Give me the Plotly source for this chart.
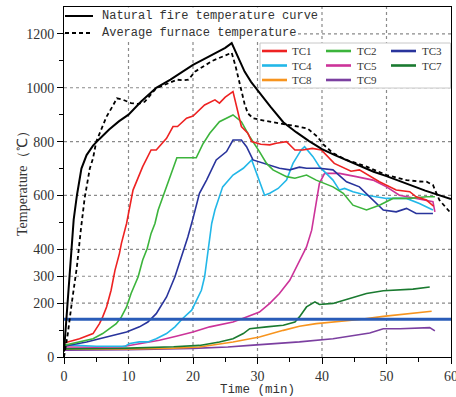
import plotly.graph_objects as go

# ---- data (time in min, temperature in °C) ----
natural_t = [0, 0.5, 1, 1.5, 2, 2.7, 3.5, 4.5, 5.5, 7, 8.5, 10, 12, 14.3, 16.5, 18, 20, 22, 24, 25, 26,
             27, 28, 29, 30, 32, 34, 36, 38, 40, 42, 45, 48, 50, 53, 56, 60]
natural_T = [20, 190, 360, 510, 600, 700, 750, 785, 810, 845, 875, 900, 950, 1000, 1030, 1055, 1085, 1110, 1135, 1148, 1166,
             1115, 1060, 1022, 990, 930, 872, 835, 802, 772, 750, 718, 688, 672, 645, 618, 587]

furnace_t = [0, 0.6, 1.2, 2, 2.6, 3.2, 4, 4.5, 5, 6, 6.6, 7.5, 8.2, 9.2, 10.4, 11.5, 12.5, 14.3, 16.5, 17.5, 18.5,
             19.3, 20.3, 21.5, 23, 25, 26, 26.6, 27.4, 28, 28.5, 29.3, 31, 33.6, 36.5, 37.8, 39.3, 40.2, 41.7, 43.8,
             46.9, 50, 53.1, 55, 56.2, 57.2, 58.2, 59.8]
furnace_T = [0, 88, 200, 335, 470, 590, 700, 738, 800, 860, 893, 930, 961, 955, 943, 940, 948, 998, 1022, 1030, 1028,
             1030, 1060, 1078, 1100, 1120, 1130, 1080, 1004, 940, 905, 887, 878, 868, 855, 848, 818, 790, 757, 732,
             707, 676, 657, 652, 651, 639, 583, 539]

tc1_t = [0, 2.4, 4.5, 5.5, 6.0, 6.6, 7.3, 7.9, 8.6, 8.9, 9.7, 10.7, 12.2, 13.5, 14.3, 15.9, 16.9, 17.6, 19, 20, 21.8,
         23.4, 24.1, 25, 26.2, 27.0, 27.5, 28.5, 29.1, 30.5, 31.9, 32.9, 34.5, 35.8, 37, 38.5, 39.9, 41.9, 44.5, 45.8,
         48.9, 51.5, 53.6, 54.6, 56.2, 57.3]
tc1_T = [52, 68, 87, 124, 149, 186, 248, 322, 385, 422, 496, 620, 707, 769, 769, 812, 856, 856, 887, 895, 936,
         955, 943, 965, 986, 905, 856, 831, 800, 790, 788, 794, 800, 769, 769, 775, 769, 719, 690, 695,
         651, 620, 614, 595, 583, 560]

tc2_t = [0, 2.4, 4.5, 6.0, 7.1, 8.1, 8.9, 9.7, 10.4, 11.5, 12.2, 12.9, 13.5, 14.1, 14.6, 15.4, 15.9, 16.9, 17.5, 18.5,
         20, 20.5, 21.5, 22.6, 24.1, 25.2, 26.2, 27.5, 28.8, 30.3, 31.4, 32.4, 34.5, 35.8, 37.6, 39.1, 41.7, 43.3,
         44.8, 46.9, 48.9, 51, 53.6, 56.2, 57.5]
tc2_T = [43, 56, 68, 87, 106, 124, 149, 186, 236, 298, 360, 403, 459, 496, 546, 600, 632, 695, 740, 740,
         740, 740, 790, 831, 874, 887, 899, 874, 818, 763, 719, 695, 670, 664, 676, 657, 632, 608,
         564, 546, 564, 589, 589, 595, 595]

tc3_t = [0, 3.5, 5.5, 7.6, 9.7, 11.7, 13, 14.3, 15.9, 17.2, 18.2, 19.2, 20, 21, 22.1, 23.6, 25.2, 26.2, 27.5, 28.3,
         29.3, 30.9, 33.4, 35, 36.5, 37.6, 39.6, 41.7, 43.8, 45.8, 47.9, 49.5, 51.5, 53.1, 54.6, 57.2]
tc3_T = [40, 56, 68, 81, 93, 112, 130, 161, 223, 298, 372, 446, 515, 608, 657, 732, 763, 806, 806, 781,
         732, 719, 701, 695, 705, 701, 701, 695, 651, 632, 583, 546, 539, 552, 533, 533]

tc4_t = [0, 5, 9.5, 10.2, 11.7, 13, 14.3, 15.9, 17.2, 18.4, 19.8, 20.5, 21.3, 21.8, 22.3, 22.9, 23.4, 24.6, 26.2,
         27.8, 29.1, 30.1, 31.1, 31.9, 33.2, 34.5, 35.5, 36.8, 37.3, 38.6, 39.6, 41.7, 42.7, 43.5, 44.8, 46.9, 50,
         53.1, 55.1, 57.2]
tc4_T = [45, 40, 40, 50, 56, 56, 68, 87, 112, 143, 174, 211, 248, 298, 397, 496, 546, 632, 676,
         701, 732, 670, 601, 608, 626, 657, 719, 770, 781, 744, 707, 657, 620, 626, 614, 601, 589,
         589, 570, 546]

tc5_t = [0, 5, 9, 12.2, 14.8, 17.4, 20, 22.6, 24, 26.2, 28.3, 30.3, 31.9, 33.4, 35, 36.5, 37.6, 38.4, 39.1, 39.6,
         40.4, 42.7, 45.3, 47.9, 50, 52, 54.6, 56.2, 57.2, 57.5]
tc5_T = [37, 36, 38, 50, 62, 77, 93, 112, 118, 130, 149, 167, 199, 236, 285, 360, 409, 471, 571, 645,
         682, 682, 670, 657, 632, 601, 589, 583, 577, 539]

tc7_t = [0, 10, 17, 21, 24.1, 26.2, 27.8, 28.8, 31.4, 34, 35.8, 36.5, 37.6, 38.9, 39.6, 41.7, 44.3, 46.9, 49.5,
         52.1, 54.1, 56.7]
tc7_T = [30, 33, 38, 43, 56, 68, 87, 105, 112, 118, 130, 149, 186, 205, 195, 199, 217, 236, 246,
         248, 252, 260]

tc8_t = [0, 10, 17, 21, 26.2, 30.3, 34, 36.5, 39.1, 41.7, 45.8, 49.5, 53.1, 57]
tc8_T = [30, 30, 33, 37, 56, 74, 99, 114, 124, 130, 139, 151, 161, 170]

tc9_t = [0, 10, 20, 25.4, 28.8, 36.5, 41.7, 45.3, 47.4, 49.5, 52.1, 56.7, 57.5]
tc9_T = [25, 27, 32, 37, 43, 56, 68, 81, 89, 105, 105, 109, 97]

critical_T = 140          # insulation criterion line
critical_t = [0, 60]

tc_names = ["TC1", "TC2", "TC3", "TC4", "TC5", "TC7", "TC8", "TC9"]
tc_colors = ["#ee2222", "#3cb43c", "#29349c", "#22b7e8", "#cc3399", "#1a7a30", "#f7941e", "#7b3fa0"]
tc_series = [(tc1_t, tc1_T), (tc2_t, tc2_T), (tc3_t, tc3_T), (tc4_t, tc4_T),
             (tc5_t, tc5_T), (tc7_t, tc7_T), (tc8_t, tc8_T), (tc9_t, tc9_T)]

x_ticks = [0, 10, 20, 30, 40, 50, 60]
x_minor = [5, 15, 25, 35, 45, 55]
y_ticks = [0, 200, 300, 400, 600, 800, 1000, 1200]
y_minor = [100, 500, 700, 900, 1100]

fig = go.Figure()

# thermocouple curves, drawn from last to first so TC1 sits on top
for name, color, (t, T) in reversed(list(zip(tc_names, tc_colors, tc_series))):
    fig.add_trace(go.Scatter(x=t, y=T, mode="lines", name=name,
                             line=dict(color=color, width=1.6), showlegend=False))

fig.add_trace(go.Scatter(x=critical_t, y=[critical_T] * len(critical_t), mode="lines",
                         line=dict(color="#2a5cb8", width=3), showlegend=False))
fig.add_trace(go.Scatter(x=furnace_t, y=furnace_T, mode="lines", name="Average furnace temperature",
                         line=dict(color="black", width=1.8, dash="4px,3px"), showlegend=False))
fig.add_trace(go.Scatter(x=natural_t, y=natural_T, mode="lines", name="Natural fire temperature curve",
                         line=dict(color="black", width=2), showlegend=False))

# ---- geometry helpers for the hand-built legends (pixel -> paper) ----
L, T_MARGIN, W, H = 64, 7, 387, 350


def px(xp):
    return (xp - L) / W


def py(yp):
    return (T_MARGIN + H - yp) / H


shapes = []
annotations = []

# dashed grid at the labelled ticks, under the curves
grid_line = dict(color="#8a8a8a", width=1.2, dash="3px,3px")
for xv in x_ticks[1:-1]:
    shapes.append(dict(type="line", xref="x", yref="paper", x0=xv, x1=xv, y0=0, y1=1,
                       line=grid_line, layer="below"))
for yv in y_ticks[1:]:
    shapes.append(dict(type="line", xref="paper", yref="y", x0=0, x1=1, y0=yv, y1=yv,
                       line=grid_line, layer="below"))

# legend for the two reference curves (white backing hides the grid behind it)
shapes.append(dict(type="rect", xref="paper", yref="paper", x0=px(64.6), x1=px(298), y0=py(41), y1=py(7.6),
                   fillcolor="white", line=dict(width=0), layer="below"))
ref_entries = [("Natural fire temperature curve", "solid", 16), ("Average furnace temperature", "4px,3px", 33)]
for text, dash, yp in ref_entries:
    shapes.append(dict(type="line", xref="paper", yref="paper", x0=px(65), x1=px(93), y0=py(yp), y1=py(yp),
                       line=dict(color="black", width=2, dash=dash), layer="above"))
    annotations.append(dict(text=text, xref="paper", yref="paper", x=px(100), y=py(yp), xanchor="left",
                            yanchor="middle", showarrow=False,
                            font=dict(family="Liberation Mono", size=12, color="#333333")))

# legend box for the thermocouples
shapes.append(dict(type="rect", xref="paper", yref="paper", x0=px(260), x1=px(450.5), y0=py(88), y1=py(43),
                   fillcolor="white", line=dict(color="#c8c8c8", width=1), layer="above"))
col_line = [262, 326, 391]
col_text = [291, 356, 421]
row_y = [51, 65.5, 80]
for i, (name, color) in enumerate(zip(tc_names, tc_colors)):
    r, c = divmod(i, 3)
    shapes.append(dict(type="line", xref="paper", yref="paper", x0=px(col_line[c]), x1=px(col_line[c] + 25),
                       y0=py(row_y[r]), y1=py(row_y[r]), line=dict(color=color, width=2.6), layer="above"))
    annotations.append(dict(text=name, xref="paper", yref="paper", x=px(col_text[c]), y=py(row_y[r]),
                            xanchor="left", yanchor="middle", showarrow=False, borderpad=0,
                            font=dict(family="Liberation Serif", size=11, color="#333333")))

# y-axis title placed beside the tick labels
annotations.append(dict(text="Temperature（℃）", xref="paper", yref="paper", x=px(22), y=py(180),
                        xanchor="center", yanchor="middle", textangle=-90, showarrow=False,
                        font=dict(family="Liberation Serif", size=14, color="#333333")))

axis_common = dict(showline=True, linecolor="black", linewidth=1, mirror=True, ticks="outside",
                   ticklen=6, tickwidth=1.2, tickcolor="black", zeroline=False, showgrid=False,
                   tickfont=dict(family="Liberation Serif", size=14, color="#333333"))

fig.update_layout(
    width=456, height=397,
    margin=dict(l=L, r=456 - L - W, t=T_MARGIN, b=397 - T_MARGIN - H),
    paper_bgcolor="white", plot_bgcolor="white",
    showlegend=False,
    shapes=shapes, annotations=annotations,
    xaxis=dict(range=[0, 60], tickmode="array", tickvals=x_ticks, ticklabeloverflow="allow",
               minor=dict(tickmode="array", tickvals=x_minor, ticks="outside", ticklen=4, tickwidth=1.2,
                          tickcolor="black", showgrid=False),
               title=dict(text="Time (min)", standoff=1,
                          font=dict(family="Liberation Mono", size=12.5, color="#333333")),
               automargin=False, **axis_common),
    yaxis=dict(range=[0, 1300], tickmode="array", tickvals=y_ticks,
               minor=dict(tickmode="array", tickvals=y_minor, ticks="outside", ticklen=4, tickwidth=1.2,
                          tickcolor="black", showgrid=False),
               automargin=False, **axis_common),
)

fig.write_html("out.html")
